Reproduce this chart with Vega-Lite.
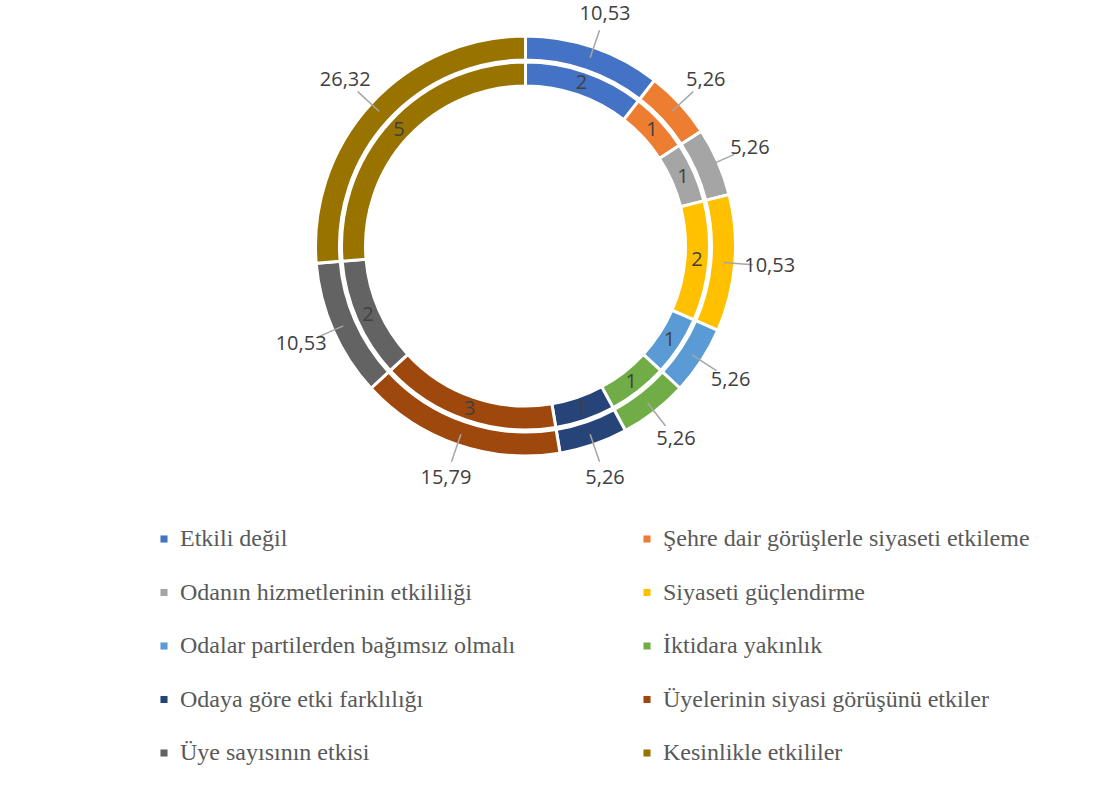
{
  "$schema": "https://vega.github.io/schema/vega-lite/v6.json",
  "width": 1039,
  "height": 482,
  "autosize": {"type": "none"},
  "padding": {"left": 6, "top": 5, "right": 74, "bottom": 309},
  "background": "white",
  "config": {
    "view": {"stroke": null},
    "locale": {"number": {"decimal": ",", "thousands": ".", "grouping": [3], "currency": ["", " TL"]}}
  },
  "data": {
    "values": [
      {"sira": 1, "kategori": "Etkili değil", "sayi": 2, "yuzde": 10.53},
      {"sira": 2, "kategori": "Şehre dair görüşlerle siyaseti etkileme", "sayi": 1, "yuzde": 5.26},
      {"sira": 3, "kategori": "Odanın hizmetlerinin etkililiği", "sayi": 1, "yuzde": 5.26},
      {"sira": 4, "kategori": "Siyaseti güçlendirme", "sayi": 2, "yuzde": 10.53},
      {"sira": 5, "kategori": "Odalar partilerden bağımsız olmalı", "sayi": 1, "yuzde": 5.26},
      {"sira": 6, "kategori": "İktidara yakınlık", "sayi": 1, "yuzde": 5.26},
      {"sira": 7, "kategori": "Odaya göre etki farklılığı", "sayi": 1, "yuzde": 5.26},
      {"sira": 8, "kategori": "Üyelerinin siyasi görüşünü etkiler", "sayi": 3, "yuzde": 15.79},
      {"sira": 9, "kategori": "Üye sayısının etkisi", "sayi": 2, "yuzde": 10.53},
      {"sira": 10, "kategori": "Kesinlikle etkililer", "sayi": 5, "yuzde": 26.32}
    ]
  },
  "encoding": {
    "theta": {"field": "sayi", "type": "quantitative", "stack": true},
    "order": {"field": "sira", "type": "quantitative"},
    "detail": {"field": "kategori", "type": "nominal"}
  },
  "layer": [
    {
      "mark": {"type": "arc", "radius": 210, "radius2": 186, "stroke": "white", "strokeWidth": 3},
      "encoding": {
        "color": {
          "field": "kategori",
          "type": "nominal",
          "sort": null,
          "scale": {
            "domain": ["Etkili değil", "Şehre dair görüşlerle siyaseti etkileme", "Odanın hizmetlerinin etkililiği", "Siyaseti güçlendirme", "Odalar partilerden bağımsız olmalı", "İktidara yakınlık", "Odaya göre etki farklılığı", "Üyelerinin siyasi görüşünü etkiler", "Üye sayısının etkisi", "Kesinlikle etkililer"],
            "range": ["#4472C4", "#ED7D31", "#A5A5A5", "#FFC000", "#5B9BD5", "#70AD47", "#264478", "#9E480E", "#636363", "#997300"]
          },
          "legend": {
            "title": null,
            "orient": "none",
            "legendX": 146,
            "legendY": 522,
            "direction": "horizontal",
            "columns": 2,
            "labelFont": "Liberation Serif",
            "labelFontSize": 24,
            "labelColor": "#595959",
            "symbolType": "square",
            "symbolSize": 50,
            "symbolStrokeWidth": 0,
            "labelOffset": 4,
            "rowPadding": 29.5,
            "columnPadding": 119,
            "labelLimit": 600
          }
        }
      }
    },
    {
      "mark": {"type": "arc", "radius": 184, "radius2": 160, "stroke": "white", "strokeWidth": 3},
      "encoding": {
        "color": {"field": "kategori", "type": "nominal", "sort": null}
      }
    },
    {
      "mark": {"type": "arc", "filled": false, "radius": 228, "radius2": 199, "padAngle": 3.1, "strokeWidth": 1.5},
      "encoding": {"color": {"value": "#A6A6A6"}}
    },
    {
      "mark": {"type": "text", "radius": 172, "font": "Open Sans", "fontSize": 20, "align": "center", "baseline": "middle"},
      "encoding": {
        "text": {"field": "sayi", "type": "quantitative"},
        "color": {"value": "#404040"}
      }
    },
    {
      "mark": {"type": "text", "radius": 245, "font": "Open Sans", "fontSize": 20, "align": "center", "baseline": "middle"},
      "encoding": {
        "text": {"field": "yuzde", "type": "quantitative", "format": ".2f"},
        "color": {"value": "#404040"}
      }
    }
  ]
}
